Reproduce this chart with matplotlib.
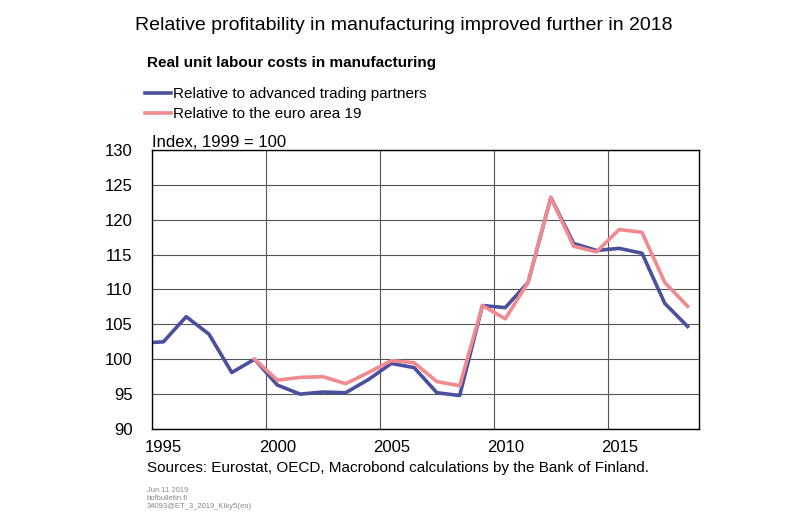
import matplotlib
matplotlib.use("Agg")
import matplotlib.pyplot as plt
import numpy as np

plt.rcParams['font.family'] = ['Liberation Sans', 'DejaVu Sans']

# annual values, plotted at mid-year
years_adv = [1994.5, 1995.5, 1996.5, 1997.5, 1998.5, 1999.5, 2000.5, 2001.5, 2002.5,
             2003.5, 2004.5, 2005.5, 2006.5, 2007.5, 2008.5, 2009.5, 2010.5, 2011.5,
             2012.5, 2013.5, 2014.5, 2015.5, 2016.5, 2017.5, 2018.5]
adv_partners = [102.3, 102.5, 106.1, 103.6, 98.1, 100.0, 96.3, 95.0, 95.3,
                95.2, 97.1, 99.4, 98.8, 95.2, 94.8, 107.7, 107.4, 111.0,
                123.2, 116.6, 115.6, 115.9, 115.2, 108.0, 104.7]

years_ea = [1999.5, 2000.5, 2001.5, 2002.5, 2003.5, 2004.5, 2005.5, 2006.5, 2007.5,
            2008.5, 2009.5, 2010.5, 2011.5, 2012.5, 2013.5, 2014.5, 2015.5, 2016.5,
            2017.5, 2018.5]
euro_area = [100.0, 97.0, 97.4, 97.5, 96.5, 98.1, 99.8, 99.5, 96.8,
             96.2, 107.7, 105.8, 111.0, 123.2, 116.2, 115.4, 118.6, 118.2,
             111.0, 107.6]

xticks = [1995, 2000, 2005, 2010, 2015]
yticks = [90, 95, 100, 105, 110, 115, 120, 125, 130]

blue = '#4a4f9e'
pink = '#f08a8f'

fig = plt.figure(figsize=(8, 5.22), dpi=100)
ax = fig.add_axes([152/800, 93/522, 547/800, 279/522])

ax.plot(years_adv, adv_partners, color=blue, lw=2.6, label='Relative to advanced trading partners')
ax.plot(years_ea, euro_area, color=pink, lw=2.6, label='Relative to the euro area 19')

ax.set_xlim(1995, 2019)
ax.set_ylim(90, 130)
ax.set_yticks(yticks)
ax.set_xticks(xticks)
ax.set_xticklabels([])
ax.set_xticks([x + 0.5 for x in xticks], minor=True)
ax.set_xticklabels([str(x) for x in xticks], minor=True)
ax.tick_params(axis='x', which='both', length=0, pad=8, labelsize=12)
ax.tick_params(axis='y', length=0, pad=14, labelsize=12)
ax.grid(True, which='major', color='#555555', lw=0.8)
for s in ax.spines.values():
    s.set_color('black')
    s.set_linewidth(1.0)

fig.text(0.505, 1 - 25/522, 'Relative profitability in manufacturing improved further in 2018',
         ha='center', va='center', fontsize=14)
fig.text(147/800, 1 - 63/522, 'Real unit labour costs in manufacturing',
         ha='left', va='center', fontsize=11, fontweight='bold')
fig.legend(loc='upper left', bbox_to_anchor=(145/800, 1 - 87/522), frameon=False,
           fontsize=11, handlelength=1.7, handletextpad=0.15, borderpad=0,
           borderaxespad=0, labelspacing=0.42)
fig.text(152/800, 1 - 142/522, 'Index, 1999 = 100', ha='left', va='center', fontsize=12)
fig.text(147/800, 1 - 468/522, 'Sources: Eurostat, OECD, Macrobond calculations by the Bank of Finland.',
         ha='left', va='center', fontsize=11)
fig.text(147/800, 1 - 487/522, 'Jun 11 2019\nbofbulletin.fi\n34093@ET_3_2019_Kiky5(en)',
         ha='left', va='top', fontsize=5.5, color='#888888', linespacing=1.25)

fig.savefig('out.png', dpi=100)
